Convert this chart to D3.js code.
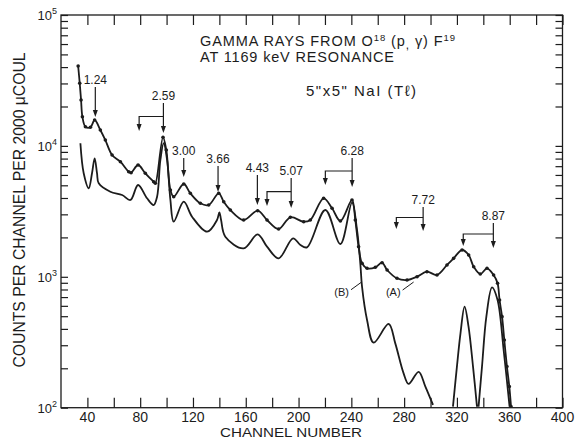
<!DOCTYPE html>
<html><head><meta charset="utf-8">
<script src="https://cdn.jsdelivr.net/npm/d3@7"></script>
<style>
body{margin:0;background:#fff}
text{font-family:"Liberation Sans","DejaVu Sans",Arial,sans-serif;fill:#1c1c1c}
</style>
</head><body>
<svg id="chart" width="576" height="440"></svg>
<script>
// ---- data ----
// curve (A): measured spectrum (dots)
const channelsA = [33,34.2,35.2,36.2,38.5,42.3,45.5,49.8,53.6,58.7,65,71.3,73.1,78.4,83.9,90.2,91.5,97.3,99.8,102.9,105.4,113,118,125.6,131.9,139.5,143.3,148.3,158.4,169,176.1,184.9,193.8,203.9,208.9,219,225.4,231.7,240.5,243,245.5,248.1,251.9,258.2,263.3,267.1,274.6,282.2,289.8,297.3,304.9,312.5,317.5,323.9,328.9,332.7,337.7,342.8,347.8,350.8,352.3,354.2,355.9,357.9,359.7,361];
const countsA = [40750,30070,22420,16720,14020,13870,15770,13230,11090,8520,7575,6350,6240,7145,6177,5327,5180,11630,9305,4603,4092,5116,4343,3643,3535,4343,3747,3238,2716,3199,2716,2318,2848,2636,2716,3979,3337,2669,3862,2716,1698,1268,1161,1182,1282,1127,974,945,1002,1094,1032,1231,1384,1602,1467,1194,1050,1161,1032,892,665,496,329,206,145,102];
// curve (B): smooth line (null = below the axis, not drawn)
const channelsB = [34.7,37.2,41,43.5,45.5,47.3,48.6,57.4,66.3,72.6,78.4,85.2,90.2,92.8,95.3,97.8,100.4,102.9,105.4,113,119.3,130.7,138.2,140,141.3,144.5,158.4,169,176.1,184.9,195.8,201.4,206.4,220.3,231.7,240.5,244.3,246.8,248.1,251.9,256.9,268.3,273.3,279.6,283.4,291,296.1,301.9,309,317,320,322.7,325.8,328.8,332.2,335.2,335.8,336.4,339,342.3,346.6,350.8,355.4,359.9];
const countsB = [10470,6177,4745,6177,8040,6177,5180,4468,4215,3862,5025,3979,3535,4092,7805,10500,7805,3860,2636,3747,2879,2211,2716,3109,2716,2025,1651,2112,1698,1384,1969,1750,1680,3238,1780,3682,2278,1268,840,468,314,436,310,183,152,188,145,105,null,102,206,370,591,416,206,102,null,102,206,496,831,665,276,102];

const xTickValues = [40,60,80,100,120,140,160,180,200,220,240,260,280,300,320,340,360,380,400];
const xTickLabels = [40,80,120,160,200,240,280,320,360,400];
const yDecades = [100,1000,10000,100000];
const yDecadeExponents = ["2","3","4","5"];

const peakLabels   = ["1.24","2.59","3.00","3.66","4.43","5.07","6.28","7.72","8.87"];
const peakChannels = [46,97.6,113,139,168.8,194.4,240.6,294.4,347.6];
const peakBracketChannels = [null,79.2,null,null,null,176.1,220.3,274.1,324.8];
const peakTipCounts   = [16630,12550,5785,4444,3535,3353,4853,2238,1660];
const peakLabelCounts = [29720,22420,8520,7410,6320,5990,8520,3597,2716];

const curveNames = ["(A)","(B)"];
const curveLabelChannels = [287.2,248.1];
const curveLabelCounts = [912,917];

const titleLine1 = "GAMMA RAYS FROM O";
const titleLine2 = "AT 1169 keV RESONANCE";
const detectorText = "5\"x5\" NaI (T\u2113)";
const xTitle = "CHANNEL NUMBER";
const yTitle = "COUNTS PER CHANNEL PER 2000 \u03bcCOUL";

// ---- drawing ----
const svg = d3.select("#chart");
const x = d3.scaleLinear().domain([20,400]).range([61,562.5]);
const y = d3.scaleLog().domain([100,100000]).range([407.7,15]);
const ink = "#1c1c1c";

svg.append("defs").append("clipPath").attr("id","plot")
  .append("rect").attr("x",x(20)).attr("y",y(1e5)).attr("width",x(400)-x(20)).attr("height",y(100)-y(1e5));

// frame
svg.append("rect").attr("x",x(20)).attr("y",y(1e5)).attr("width",x(400)-x(20)).attr("height",y(100)-y(1e5))
  .attr("fill","none").attr("stroke",ink).attr("stroke-width",1.3);

const yMinor = [];
yDecades.slice(0,3).forEach(d=>{for(let k=1;k<10;k++) yMinor.push(d*k);});
yMinor.push(1e5);

function styleAxis(g){g.select(".domain").remove();g.selectAll("line").attr("stroke",ink).attr("stroke-width",1.2);g.selectAll("text").remove();}
svg.append("g").attr("transform",`translate(0,${y(100)})`).call(d3.axisBottom(x).tickValues(xTickValues).tickSize(-10).tickFormat("")).call(styleAxis);
svg.append("g").attr("transform",`translate(0,${y(1e5)})`).call(d3.axisTop(x).tickValues(xTickValues).tickSize(-10).tickFormat("")).call(styleAxis);
svg.append("g").attr("transform",`translate(${x(20)},0)`).call(d3.axisLeft(y).tickValues(yMinor).tickSize(-7).tickFormat("")).call(styleAxis);
svg.append("g").attr("transform",`translate(${x(400)},0)`).call(d3.axisRight(y).tickValues(yMinor).tickSize(-7).tickFormat("")).call(styleAxis);

// x tick labels
svg.append("g").selectAll("text").data(xTickLabels).join("text")
  .attr("x",d=>x(d)).attr("y",421.5).attr("text-anchor","middle").attr("font-size",14).text(d=>d);
// y decade labels
const yl = svg.append("g").selectAll("text").data(yDecades).join("text")
  .attr("x",57).attr("y",d=>y(d)+5).attr("text-anchor","end").attr("font-size",13);
yl.append("tspan").text("10");
yl.append("tspan").attr("font-size",9).attr("dy",-6).text((d,i)=>yDecadeExponents[i]);

// axis titles
svg.append("text").attr("x",291).attr("y",436.5).attr("text-anchor","middle").attr("font-size",13)
  .attr("textLength",142).attr("lengthAdjust","spacingAndGlyphs").text(xTitle);
svg.append("text").attr("transform","translate(25,210) rotate(-90)").attr("text-anchor","middle").attr("font-size",16)
  .attr("textLength",315).attr("lengthAdjust","spacingAndGlyphs").text(yTitle);

// titles
const t1 = svg.append("text").attr("x",200).attr("y",46).attr("font-size",14.5)
  .attr("textLength",255).attr("lengthAdjust","spacing");
t1.append("tspan").text(titleLine1);
t1.append("tspan").attr("font-size",9.5).attr("dy",-5).text("18");
t1.append("tspan").attr("dy",5).text(" (p");
t1.append("tspan").attr("dy",3).attr("font-size",12).text(",");
t1.append("tspan").attr("dy",-3).text(" \u03b3) F");
t1.append("tspan").attr("font-size",9.5).attr("dy",-5).text("19");
svg.append("text").attr("x",200).attr("y",62).attr("font-size",14.5)
  .attr("textLength",194).attr("lengthAdjust","spacing").text(titleLine2);
svg.append("text").attr("x",306).attr("y",96).attr("font-size",15)
  .attr("textLength",110).attr("lengthAdjust","spacing").text(detectorText);

// curves
const plot = svg.append("g").attr("clip-path","url(#plot)");
const dataA = channelsA.map((c,i)=>({c,v:countsA[i]}));
const dataB = channelsB.map((c,i)=>({c,v:countsB[i]}));
const line = d3.line().defined(d=>d.v!=null).x(d=>x(d.c)).y(d=>y(d.v)).curve(d3.curveCatmullRom.alpha(0.5));
plot.append("path").datum(dataB).attr("d",line).attr("fill","none").attr("stroke",ink).attr("stroke-width",1.8);
plot.append("path").datum(dataA).attr("d",line).attr("fill","none").attr("stroke",ink).attr("stroke-width",1.8);
plot.append("g").selectAll("circle").data(dataA).join("circle")
  .attr("cx",d=>x(d.c)).attr("cy",d=>y(d.v)).attr("r",1.8).attr("fill",ink);

// peak annotations
function arrowHead(g,px,py){
  g.append("path").attr("d",`M${px},${py} L${px-2.5},${py-7} L${px+2.5},${py-7} Z`).attr("fill",ink);
}
const ann = svg.append("g");
peakLabels.forEach((lab,i)=>{
  const px = x(peakChannels[i]);
  const tip = y(peakTipCounts[i]);
  const base = y(peakLabelCounts[i]);
  ann.append("text").attr("x",px).attr("y",base).attr("text-anchor","middle").attr("font-size",12).text(lab);
  ann.append("line").attr("x1",px).attr("x2",px).attr("y1",base+3).attr("y2",tip-3).attr("stroke",ink).attr("stroke-width",1.2);
  arrowHead(ann,px,tip);
  if(peakBracketChannels[i]!=null){
    const bx = x(peakBracketChannels[i]);
    const by = (base+tip)/2;
    ann.append("path").attr("d",`M${px},${by} H${bx} V${tip-5}`).attr("fill","none").attr("stroke",ink).attr("stroke-width",1.2);
    arrowHead(ann,bx,tip-2);
  }
});

// curve labels (A) and (B)
curveNames.forEach((n,i)=>{
  const px = x(curveLabelChannels[i]), py = y(curveLabelCounts[i]);
  ann.append("line").attr("x1",px).attr("y1",py).attr("x2",px-11).attr("y2",py+8).attr("stroke",ink).attr("stroke-width",1);
  ann.append("text").attr("x",px-13).attr("y",py+14).attr("text-anchor","end").attr("font-size",11).text(n);
});
</script>
</body></html>
